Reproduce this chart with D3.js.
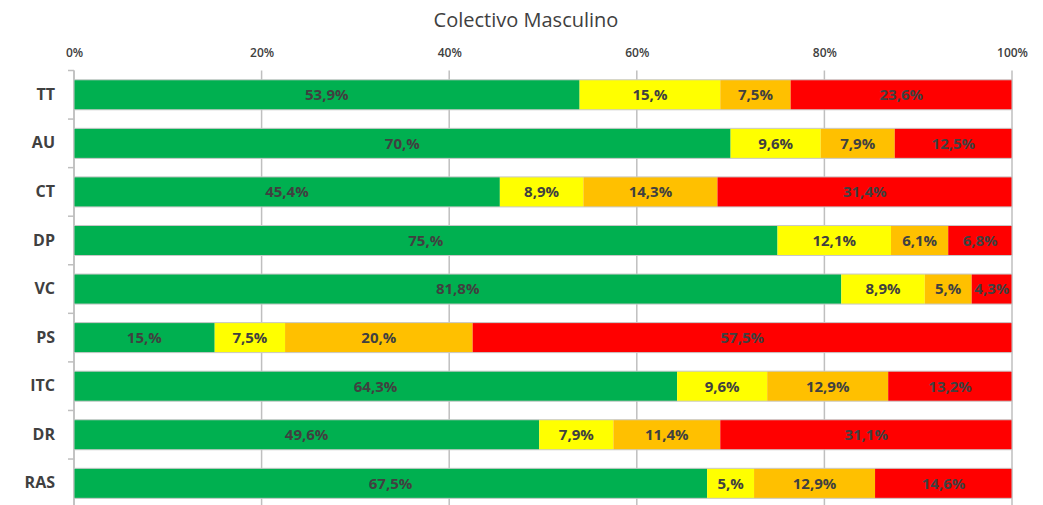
<!DOCTYPE html>
<html>
<head>
<meta charset="utf-8">
<script src="https://cdn.jsdelivr.net/npm/d3@7"></script>
<style>
  body { margin: 0; background: #fff; }
  svg text { font-family: "Open Sans", "DejaVu Sans", sans-serif; }
</style>
</head>
<body>
<svg id="chart" width="1043" height="505"></svg>
<script>
// data
var categories = ['TT', 'AU', 'CT', 'DP', 'VC', 'PS', 'ITC', 'DR', 'RAS'];
var seriesNames = ['verde', 'amarillo', 'naranja', 'rojo'];
var verde    = [53.9, 70,  45.4, 75,   81.8, 15,   64.3, 49.6, 67.5];
var amarillo = [15,   9.6, 8.9,  12.1, 8.9,  7.5,  9.6,  7.9,  5];
var naranja  = [7.5,  7.9, 14.3, 6.1,  5,    20,   12.9, 11.4, 12.9];
var rojo     = [23.6, 12.5, 31.4, 6.8, 4.3,  57.5, 13.2, 31.1, 14.6];
var tickValues = [0, 20, 40, 60, 80, 100];
var colors = ['#00B050', '#FFFF00', '#FFC000', '#FF0000'];

var rows = categories.map(function(c, i){
  return { cat: c, verde: verde[i], amarillo: amarillo[i], naranja: naranja[i], rojo: rojo[i] };
});

var svg = d3.select('#chart');
var plotLeft = 74, plotRight = 1012, plotTop = 70.5, plotBottom = 507.6;

var x = d3.scaleLinear().domain([0, 100]).range([plotLeft, plotRight]);
var y = d3.scaleBand().domain(categories).range([plotTop, plotBottom])
  .paddingInner(0.382).paddingOuter(0.191);
var color = d3.scaleOrdinal().domain(seriesNames).range(colors);

function fmt(v) {
  // Excel-like format: integers keep the comma ("15,%")
  return Number.isInteger(v) ? v + ',%' : String(v).replace('.', ',') + '%';
}

// title
svg.append('text')
  .attr('x', 526).attr('y', 27)
  .attr('text-anchor', 'middle')
  .style('font-size', '20px')
  .style('fill', '#404040')
  .text('Colectivo Masculino');

// grid lines
svg.append('g').selectAll('line')
  .data(tickValues).enter().append('line')
  .attr('x1', function(d){ return x(d); })
  .attr('x2', function(d){ return x(d); })
  .attr('y1', plotTop).attr('y2', 505)
  .style('stroke', '#bfbfbf').style('stroke-width', 1.5);

// top axis
var axis = svg.append('g')
  .attr('transform', 'translate(0,' + plotTop + ')')
  .call(d3.axisTop(x).tickValues(tickValues).tickSize(0).tickPadding(14)
    .tickFormat(function(d){ return d + '%'; }));
axis.select('.domain').remove();
axis.selectAll('text')
  .style('font-size', '12px').style('font-weight', 600)
  .style('fill', '#404040');

// left axis
var yAxis = svg.append('g')
  .attr('transform', 'translate(' + plotLeft + ',0)')
  .call(d3.axisLeft(y).tickSize(0).tickPadding(19));
yAxis.select('.domain').remove();
yAxis.selectAll('text')
  .style('font-size', '16px').style('font-weight', 'bold')
  .style('fill', '#404040');

svg.append('line')
  .attr('x1', plotLeft).attr('x2', plotLeft).attr('y1', plotTop).attr('y2', 505)
  .style('stroke', '#bfbfbf').style('stroke-width', 1.5);
svg.append('g').selectAll('line')
  .data(d3.range(categories.length + 1)).enter().append('line')
  .attr('x1', plotLeft - 6).attr('x2', plotLeft)
  .attr('y1', function(i){ return plotTop + i * y.step(); })
  .attr('y2', function(i){ return plotTop + i * y.step(); })
  .style('stroke', '#bfbfbf').style('stroke-width', 1.5);

// stacked bars
var stack = d3.stack().keys(seriesNames);
var layers = stack(rows);

var layer = svg.append('g').selectAll('g')
  .data(layers).enter().append('g')
  .style('fill', function(d){ return color(d.key); });

layer.selectAll('rect')
  .data(function(d){ return d; })
  .enter().append('rect')
  .attr('x', function(d){ return x(d[0]); })
  .attr('width', function(d){ return x(d[1]) - x(d[0]); })
  .attr('y', function(d){ return y(d.data.cat); })
  .attr('height', y.bandwidth());

// thin outline around each bar
svg.append('g').selectAll('rect')
  .data(rows).enter().append('rect')
  .attr('x', x(0)).attr('width', x(100) - x(0))
  .attr('y', function(d){ return y(d.cat); })
  .attr('height', y.bandwidth())
  .style('fill', 'none').style('stroke', '#c8c8c8').style('stroke-width', 1);

// segment labels
var labels = svg.append('g').selectAll('g')
  .data(layers).enter().append('g');
labels.selectAll('text')
  .data(function(d){ return d.map(function(s){ return { s: s, key: d.key }; }); })
  .enter().append('text')
  .attr('x', function(d){ return (x(d.s[0]) + x(d.s[1])) / 2; })
  .attr('y', function(d){ return y(d.s.data.cat) + y.bandwidth() / 2; })
  .attr('dy', '0.36em')
  .attr('text-anchor', 'middle')
  .style('font-size', '15px').style('font-weight', 'bold')
  .style('fill', '#404040')
  .text(function(d){ return fmt(d.s.data[d.key]); });
</script>
</body>
</html>
